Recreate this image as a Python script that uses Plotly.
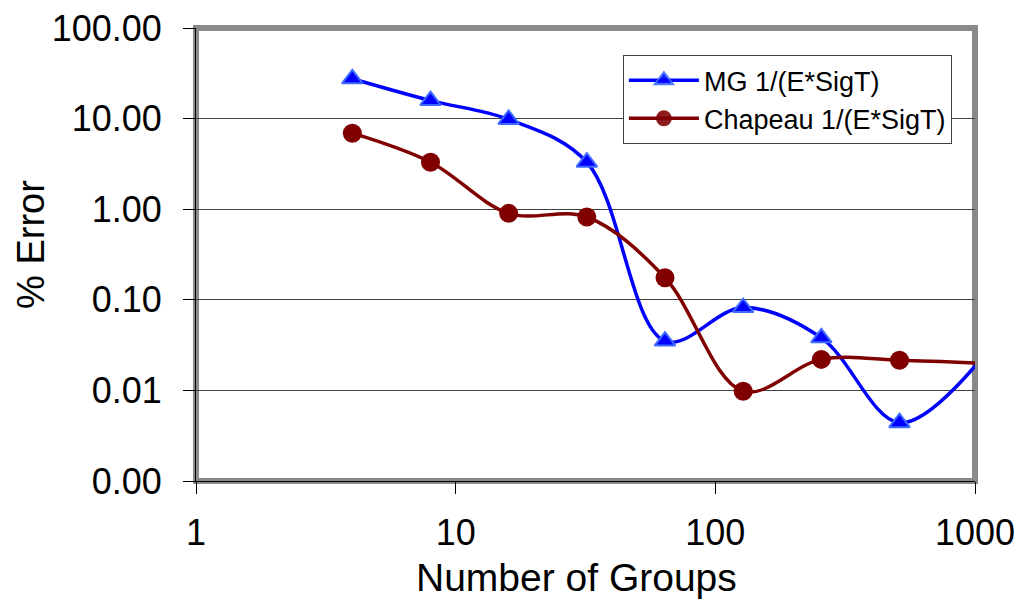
import plotly.graph_objects as go

groups = [4, 8, 16, 32, 64, 128, 256, 512, 1024]
mg_error = [27.5, 15.8, 9.8, 3.3, 0.035, 0.082, 0.038, 0.0044, 0.020]
chapeau_error = [6.9, 3.3, 0.90, 0.82, 0.175, 0.0098, 0.022, 0.0215, 0.020]

y_tickvals = [0.001, 0.01, 0.1, 1, 10, 100]
y_ticktext = ["0.00", "0.01", "0.10", "1.00", "10.00", "100.00"]
x_tickvals = [1, 10, 100, 1000]
x_ticktext = ["1", "10", "100", "1000"]

FONT = "Liberation Sans, Arial, sans-serif"
# last point lies beyond the axis maximum: its marker is not drawn
vis = [1] * (len(groups) - 1) + [0]

fig = go.Figure()
fig.add_trace(go.Scatter(
    x=groups, y=mg_error, name="MG 1/(E*SigT)",
    mode="lines+markers",
    line=dict(color="#0000FF", width=3.5, shape="spline", smoothing=1),
    marker=dict(symbol="triangle-up", size=18, color="#0000FF", opacity=vis,
                line=dict(color="#3D6BFF", width=2)),
))
fig.add_trace(go.Scatter(
    x=groups, y=chapeau_error, name="Chapeau 1/(E*SigT)",
    mode="lines+markers",
    line=dict(color="#800000", width=3.5, shape="spline", smoothing=1),
    marker=dict(symbol="circle", size=19, color="#800000", opacity=vis,
                line=dict(color="#800000", width=0)),
))

fig.update_layout(
    width=1018, height=601,
    margin=dict(l=196, r=43, t=28, b=120, autoexpand=False),
    paper_bgcolor="white", plot_bgcolor="white",
    font=dict(family=FONT, color="black"),
    showlegend=True,
    legend=dict(
        x=0.548, y=0.94, xanchor="left", yanchor="top",
        bgcolor="white", bordercolor="#404040", borderwidth=1,
        font=dict(size=27, family=FONT, color="black"),
        itemwidth=70, tracegroupgap=0,
    ),
    shapes=[dict(type="rect", xref="paper", yref="paper", x0=0, x1=1, y0=0, y1=1,
                 line=dict(color="#8A8A8A", width=6), layer="between")],
    annotations=[
        dict(text="Number of Groups", xref="paper", yref="paper", x=0.488, y=-0.212,
             xanchor="center", yanchor="middle", showarrow=False,
             font=dict(size=39, family=FONT, color="black")),
        dict(text="% Error", xref="paper", yref="paper", x=-0.212, y=0.523,
             xanchor="center", yanchor="middle", showarrow=False, textangle=-90,
             font=dict(size=38, family=FONT, color="black")),
    ],
)

fig.update_xaxes(
    type="log", range=[0, 3], automargin=False,
    tickvals=x_tickvals, ticktext=x_ticktext,
    ticks="outside", ticklen=12, tickwidth=1, tickcolor="black",
    showline=True, linecolor="black", linewidth=1,
    showgrid=False, zeroline=False,
    tickfont=dict(size=36, family=FONT, color="black"),
    ticklabelstandoff=8, ticklabeloverflow="allow",
)
fig.update_yaxes(
    type="log", range=[-3, 2], automargin=False,
    tickvals=y_tickvals, ticktext=y_ticktext,
    ticks="outside", ticklen=12, tickwidth=1, tickcolor="black",
    showline=True, linecolor="black", linewidth=1,
    showgrid=True, gridcolor="#404040", gridwidth=1, zeroline=False,
    tickfont=dict(size=36, family=FONT, color="black"),
    ticklabelstandoff=14, ticklabeloverflow="allow",
)

fig.write_html("out.html", config={"displayModeBar": False},
               post_script="document.body.style.margin='0';document.body.style.overflow='hidden';")
